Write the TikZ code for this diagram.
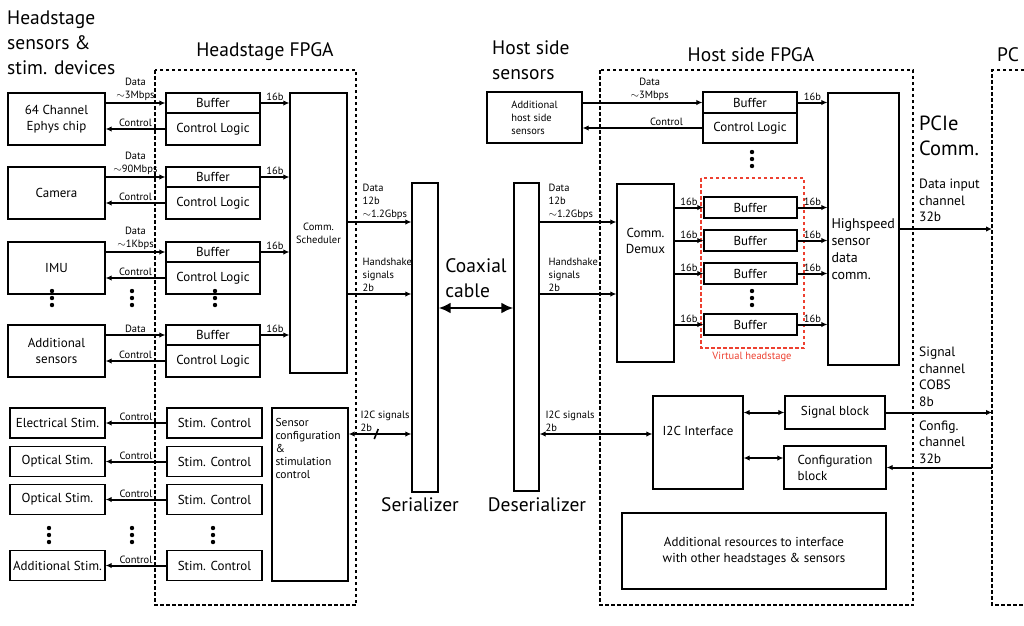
\documentclass[tikz,border=0pt]{standalone}
\usepackage{fontspec}
\setmainfont{PT Sans}
\usetikzlibrary{arrows.meta,positioning}
\definecolor{vhred}{RGB}{237,64,48}
\tikzset{every node/.style={inner sep=1pt},
blk/.style={draw, line width=1.3pt, align=center, font=\fontsize{13}{16}\selectfont},
sz/.style 2 args={minimum width=#1pt, minimum height=#2pt},
lbl/.style={font=\fontsize{10.5}{13}\selectfont, align=left},
mid/.style={font=\fontsize{13.5}{16.5}\selectfont, align=left},
ttl/.style={font=\fontsize{19.5}{25}\selectfont, align=left},
zone/.style={line width=1.4pt, dash pattern=on 3.5pt off 2.5pt},
wire/.style={line width=2pt, -{Latex[length=6pt,width=5.5pt]}},
bus/.style={line width=2pt, {Latex[length=6pt,width=5.5pt]}-{Latex[length=6pt,width=5.5pt]}}
}
\newcommand{\vdts}[2]{\foreach \k in {-7,0,7} \fill (#1,#2+\k) circle (2.2pt);}

\begin{document}
\begin{tikzpicture}[x=1pt, y=-1pt]
       \useasboundingbox (0,0) rectangle (1024,625);
       % titles
       \node[ttl, anchor=west] (t_hsens) at (6,43) {Headstage\\sensors \&\\stim. devices};
       \node[ttl] (t_hfpga) at (265,52) {Headstage FPGA};
       \node[ttl, anchor=west] (t_hostsens) at (491,60) {Host side\\sensors};
       \node[ttl] (t_hostfpga) at (751,55) {Host side FPGA};
       \node[ttl] (t_pc) at (1008,55) {PC};

       % dashed zones
       \draw[zone] (155,70) rectangle (356,605);
       \draw[zone] (600,70) rectangle (913,605);
       \draw[zone] (1024,70) -| (992,605) -- (1024,605);
       \coordinate (pc_l) at (992,0);

       % headstage side
       \node[blk, sz={57}{280}, font=\fontsize{10.5}{13}\selectfont] (sched) at (318.5,233) {Comm.\\Scheduler};
       \foreach \i/\t/\dev/\rate in {1/93/{64 Channel\\Ephys chip}/{Data\\$\sim$3Mbps},
           2/167/Camera/{Data\\$\sim$90Mbps}, 3/242/IMU/{Data\\$\sim$1Kbps},
           4/325/{Additional\\sensors}/Data} {
         \node[blk, sz={97}{52}] (dev_\i) at (56.5,\t+26) {\dev};
         \node[blk, sz={94}{20}] (buf_\i) at (213,\t+10) {Buffer};
         \node[blk, sz={94}{32}] (cl_\i) at (213,\t+36) {Control Logic};
         \draw[wire] (dev_\i.east |- buf_\i) -- node[lbl, above, align=center] {\rate} (buf_\i.west);
         \draw[wire] (cl_\i.west) -- node[lbl, above] {Control} (dev_\i.east |- cl_\i);
         \draw[wire] (buf_\i.east) -- node[lbl, above] {16b} (sched.west |- buf_\i);
       }
       \vdts{52}{298} \vdts{132}{298} \vdts{215}{298}

       \foreach \i/\c/\dev in {1/423/Electrical Stim., 2/461.5/Optical Stim.,
           3/499.5/Optical Stim., 4/565.5/Additional Stim.} {
         \node[blk, sz={95}{30}] (stim_\i) at (57.5,\c) {\dev};
         \node[blk, sz={95}{30}] (sc_\i) at (214.5,\c) {Stim. Control};
         \draw[wire] (sc_\i) -- node[lbl, above] {Control} (stim_\i);
       }
       \vdts{49}{535} \vdts{132}{535} \vdts{213}{535}

       \node[blk, sz={76}{173}, label={[lbl, font=\fontsize{11.5}{13}\selectfont, anchor=north west, xshift=3pt, yshift=-10pt]north west:{Sensor\\configuration\\\&\\stimulation\\control}}] (cfg) at (310,494.5) {};

       % serializer link
       \node[blk, sz={26}{309}] (ser) at (425,337.5) {};
       \node[blk, sz={25}{308}] (des) at (526.5,337) {};
       \node[ttl] (t_ser) at (420,505) {Serializer};
       \node[ttl] (t_des) at (537,505) {Deserializer};
       \node[ttl] (t_coax) at (476,278) {Coaxial\\cable};
       \coordinate (coax_y) at (0,308);
       \draw[line width=2.8pt, {Latex[length=12pt,width=11pt]}-{Latex[length=12pt,width=11pt]}] (ser.east |- coax_y) -- (des.west |- coax_y);

       \coordinate (dat_y) at (0,222);
       \coordinate (hs_y) at (0,294);
       \coordinate (i2c_y) at (0,434);
       \draw[wire] (sched.east |- dat_y) -- node[lbl, pos=0, anchor=south west, xshift=13pt] {Data\\12b\\$\sim$1.2Gbps} (ser.west |- dat_y);
       \draw[wire] (sched.east |- hs_y) -- node[lbl, pos=0, anchor=south west, xshift=13pt] {Handshake\\signals\\2b} (ser.west |- hs_y);
       \draw[bus] (cfg.east |- i2c_y) -- node[lbl, pos=0, anchor=south west, xshift=10pt] {I2C signals\\2b} coordinate[pos=0.44] (tick) (ser.west |- i2c_y);
       \draw[line width=1.6pt] ([shift={(-2,5)}]tick) -- ([shift={(2,-5)}]tick);

       % host side
       \node[blk, sz={57}{178}, label={[font=\fontsize{13}{16}\selectfont, align=center, yshift=32pt]center:{Comm.\\Demux}}] (demux) at (645.5,273) {};
       \draw[wire] (des.east |- dat_y) -- node[lbl, pos=0, anchor=south west, xshift=7pt] {Data\\12b\\$\sim$1.2Gbps} (demux.west |- dat_y);
       \draw[wire] (des.east |- hs_y) -- node[lbl, pos=0, anchor=south west, xshift=7pt] {Handshake\\signals\\2b} (demux.west |- hs_y);

       \node[blk, sz={71}{272}, label={[font=\fontsize{14}{17}\selectfont, align=left, anchor=west, xshift=3pt, yshift=-20pt]west:{Highspeed\\sensor\\data\\comm.}}] (hs) at (863.5,229) {};

       \node[blk, sz={95}{51}, font=\fontsize{10.5}{13}\selectfont, align=left] (addsens) at (534.5,117.5) {Additional\\host side\\sensors};
       \node[blk, sz={94}{21}] (hbuf) at (750,102.5) {Buffer};
       \node[blk, sz={94}{30}] (hcl) at (750,128) {Control Logic};
       \draw[wire] (addsens.east |- hbuf) -- node[lbl, above, align=center, pos=0.56] {Data\\$\sim$3Mbps} (hbuf.west);
       \draw[wire] (hcl.west) -- node[lbl, above, pos=0.3] {Control} (addsens.east |- hcl);
       \draw[wire] (hbuf.east) -- node[lbl, above] {16b} (hs.west |- hbuf);
       \vdts{752}{159}

       % virtual headstage
       \draw[vhred, line width=2.4pt, dash pattern=on 3.5pt off 2.5pt] (701,178) rectangle (804,348);
       \node[lbl, text=vhred] (t_virt) at (752,357) {Virtual headstage};
       \foreach \i/\c in {1/207.5, 2/240.5, 3/273.5, 4/324.5} {
         \node[blk, sz={93}{21}] (vbuf_\i) at (750.5,\c) {Buffer};
         \draw[wire] (demux.east |- vbuf_\i) -- node[lbl, above] {16b} (vbuf_\i.west);
         \draw[wire] (vbuf_\i.east) -- node[lbl, above] {16b} (hs.west |- vbuf_\i);
       }
       \vdts{752}{298}

       % PC links
       \node[ttl, font=\fontsize{20.5}{25}\selectfont, anchor=west] (t_pcie) at (918,135.5) {PCIe\\Comm.};
       \node[mid, anchor=west] (t_din) at (918,200.5) {Data input\\channel\\32b};
       \draw[wire] (hs.east) -- (pc_l |- hs.east);

       \node[blk, sz={90}{93}, label={[font=\fontsize{13}{16}\selectfont, yshift=12pt]center:I2C Interface}] (i2cif) at (698,442.5) {};
       \node[blk, sz={100}{33}] (sigblk) at (835,412.5) {Signal block};
       \node[blk, sz={102}{43}, align=left] (cfgblk) at (835,467.5) {Configuration\\block};
       \draw[bus] (des.east |- i2c_y) -- node[lbl, pos=0, anchor=south west, xshift=4pt] {I2C signals\\2b} (i2cif.west |- i2c_y);
       \coordinate (cfgb_y) at (0,458);
       \draw[bus] (i2cif.east |- sigblk) -- (sigblk.west);
       \draw[bus] (i2cif.east |- cfgb_y) -- (cfgblk.west |- cfgb_y);

       \node[mid, anchor=west] (t_sig) at (918,377) {Signal\\channel\\COBS\\8b};
       \node[mid, anchor=west] (t_cfgch) at (918,442) {Config.\\channel\\32b};
       \draw[wire] (sigblk.east) -- (pc_l |- sigblk.east);
       \draw[wire] (pc_l |- cfgblk.east) -- (cfgblk.east);

       \node[blk, sz={264}{76}] (addres) at (754,551) {Additional resources to interface\\with other headstages \& sensors};
\end{tikzpicture}
\end{document}
